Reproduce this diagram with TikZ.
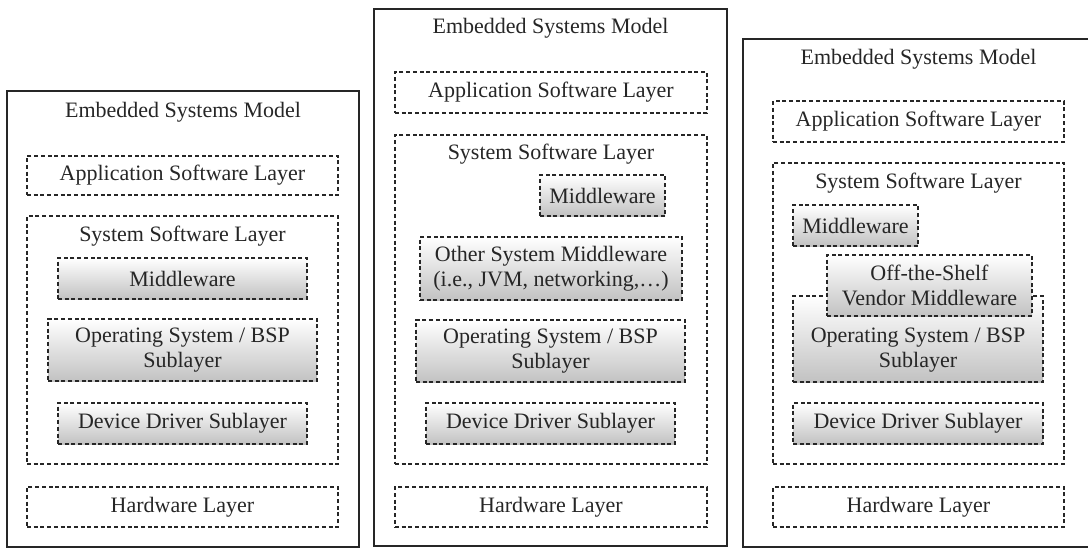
\documentclass[tikz,border=0pt]{standalone}
\usepackage{fontspec}
\setmainfont{Liberation Serif}
\tikzset{
  panel/.style={draw=black!85, line width=2pt, inner sep=0pt},
  heading/.style={text=black!85, font=\fontsize{22}{25}\selectfont, inner sep=0pt},
  layer/.style={draw=black!85, line width=1.5pt, dash pattern=on 4pt off 2.7pt,
    heading, align=center},
  sublayer/.style={layer, top color=white, middle color=black!4, bottom color=black!24}
}
\begin{document}
\begin{tikzpicture}[x=1pt, y=-1pt]
  \useasboundingbox (0,0) rectangle (1088,549);
  \clip (0,0) rectangle (1088,549);

  % left model
  \node[panel, minimum width=352pt, minimum height=456pt] (P1) at (183,319) {};
  \node[heading] (T1) at (183,112) {Embedded Systems Model};
  \node[layer, minimum width=311pt, minimum height=39pt] (A1) at (182.5,175.5) {Application Software Layer};
  \node[layer, minimum width=311pt, minimum height=248pt] (S1) at (182.5,340) {};
  \node[heading] (ST1) at (182.5,236) {System Software Layer};
  \node[sublayer, minimum width=249pt, minimum height=41pt] (M1) at (182.5,278.5) {Middleware};
  \node[sublayer, minimum width=269pt, minimum height=62pt] (OS1) at (182.5,350) {Operating System / BSP\\Sublayer};
  \node[sublayer, minimum width=249pt, minimum height=41pt] (DD1) at (182.5,423.5) {Device Driver Sublayer};
  \node[layer, minimum width=311pt, minimum height=40pt] (HW1) at (182.5,507) {Hardware Layer};

  % middle model
  \node[panel, minimum width=353pt, minimum height=537pt] (P2) at (550.5,277.5) {};
  \node[heading] (T2) at (550.5,28) {Embedded Systems Model};
  \node[layer, minimum width=312pt, minimum height=41pt] (A2) at (551,92.5) {Application Software Layer};
  \node[layer, minimum width=312pt, minimum height=329pt] (S2) at (551,299.5) {};
  \node[heading] (ST2) at (551,154) {System Software Layer};
  \node[sublayer, minimum width=125pt, minimum height=41pt] (M2) at (602.5,195.5) {Middleware};
  \node[sublayer, minimum width=262pt, minimum height=63pt] (OM2) at (551,268.5) {Other System Middleware\\(i.e., JVM, networking,\dots)};
  \node[sublayer, minimum width=269pt, minimum height=62pt] (OS2) at (550.5,351) {Operating System / BSP\\Sublayer};
  \node[sublayer, minimum width=249pt, minimum height=41pt] (DD2) at (550.5,423.5) {Device Driver Sublayer};
  \node[layer, minimum width=312pt, minimum height=40pt] (HW2) at (551,507) {Hardware Layer};

  % right model
  \node[panel, minimum width=351pt, minimum height=508pt] (P3) at (918.5,293) {};
  \node[heading] (T3) at (918.5,59) {Embedded Systems Model};
  \node[layer, minimum width=291pt, minimum height=41pt] (A3) at (918.5,121.5) {Application Software Layer};
  \node[layer, minimum width=291pt, minimum height=301pt] (S3) at (918.5,313.5) {};
  \node[heading] (ST3) at (918.5,183) {System Software Layer};
  \node[sublayer, minimum width=125pt, minimum height=41pt] (M3) at (855.5,225.5) {Middleware};
  \node[sublayer, minimum width=250pt, minimum height=86pt] (OS3) at (918,339) {};
  \node[heading, align=center] (OST3) at (918,350) {Operating System / BSP\\Sublayer};
  \node[sublayer, minimum width=205pt, minimum height=61pt] (V3) at (929.5,285.5) {Off-the-Shelf\\Vendor Middleware};
  \node[sublayer, minimum width=250pt, minimum height=41pt] (DD3) at (918,423.5) {Device Driver Sublayer};
  \node[layer, minimum width=291pt, minimum height=40pt] (HW3) at (918.5,507) {Hardware Layer};
\end{tikzpicture}
\end{document}
